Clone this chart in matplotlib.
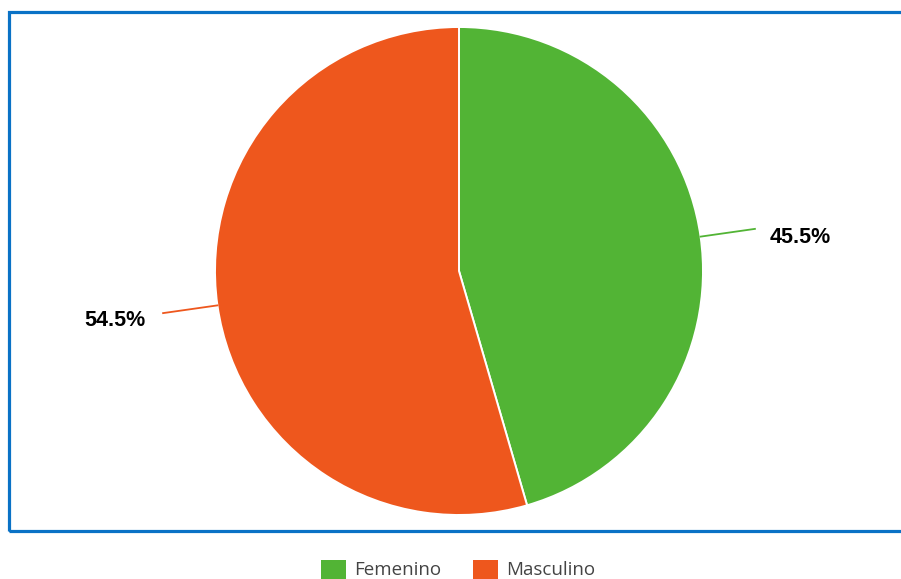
import matplotlib.pyplot as plt
from matplotlib.patches import Rectangle
import numpy as np

categories = ["Femenino", "Masculino"]
shares = [45.5, 54.5]
colors = ["#52b435", "#ee571d"]

W, H = 901, 579

fig = plt.figure(figsize=(W / 100, H / 100), dpi=100)
ax = fig.add_axes([0, 0, 1, 1])
ax.set_xlim(0, W)
ax.set_ylim(0, H)
ax.set_aspect("equal")
ax.axis("off")

# frame around the chart area (right side runs off the image)
ax.add_patch(Rectangle((8.5, H - 530.5), 1000, 519, fill=False,
                       edgecolor="#0a72c6", linewidth=2.3, clip_on=False))

cx, cy, r = 459, H - 271, 244
wedges, _ = ax.pie(shares, colors=colors, startangle=90, counterclock=False,
                   center=(cx, cy), radius=r,
                   wedgeprops=dict(edgecolor="white", linewidth=1.4))
ax.set_xlim(0, W)
ax.set_ylim(0, H)

for w, val, col in zip(wedges, shares, colors):
    ang = np.deg2rad((w.theta1 + w.theta2) / 2)
    x0, y0 = cx + r * np.cos(ang), cy + r * np.sin(ang)
    x1, y1 = cx + r * 1.225 * np.cos(ang), cy + r * 1.225 * np.sin(ang)
    ax.plot([x0, x1], [y0, y1], color=col, linewidth=1.3)
    if np.cos(ang) >= 0:
        ax.text(x1 + 15, y1 - 9, f"{val}%", ha="left", va="center",
                fontsize=15.5, fontweight="bold", family="Liberation Sans",
                color="black")
    else:
        ax.text(x1 - 18, y1 - 7, f"{val}%", ha="right", va="center",
                fontsize=15.5, fontweight="bold", family="Liberation Sans",
                color="black")

# legend row at the bottom
lx = [321, 473]
for x, name, col in zip(lx, categories, colors):
    ax.add_patch(Rectangle((x, H - 585), 25, 25, facecolor=col,
                           edgecolor="none", clip_on=True))
    ax.text(x + 33, H - 570, name, ha="left", va="center", fontsize=13.5,
            family="Open Sans", color="#444444")

fig.savefig("out.png", dpi=100)
